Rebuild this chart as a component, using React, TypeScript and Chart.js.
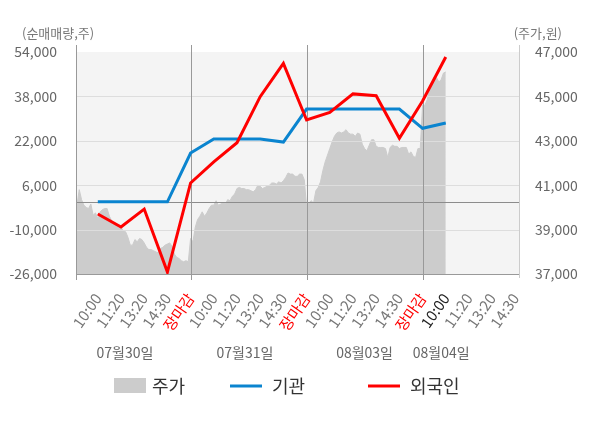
import { useEffect, useRef } from "react";
import { Chart, registerables } from "chart.js";

Chart.register(...registerables);

const FONT = '"Noto Sans CJK KR", "Noto Sans", sans-serif';

// x축 눈금 (일자별 시간대)
const X_LABELS = [
  "10:00", "11:20", "13:20", "14:30", "장마감",
  "10:00", "11:20", "13:20", "14:30", "장마감",
  "10:00", "11:20", "13:20", "14:30", "장마감",
  "10:00", "11:20", "13:20", "14:30",
];
const CURRENT_TICK = 15;

const DAYS = ["07월30일", "07월31일", "08월03일", "08월04일"];
const DAY_LABEL_AT = [2.17, 7.34, 12.5, 15.8];

const LEFT_TICKS = [-26000, -10000, 6000, 22000, 38000, 54000];
const RIGHT_TICKS = [37000, 39000, 41000, 43000, 45000, 47000];

// 순매매량 (주)
const INSTITUTION = [0, 0, 0, 0, 17600, 22650, 22650, 22650, 21550, 33450, 33450, 33450, 33450, 33450, 26500, 28400];
const FOREIGN = [-4400, -9050, -2600, -25300, 6800, 14400, 21300, 37900, 49900, 29500, 32200, 38900, 38250, 22900, 36350, 52200];

// 주가 (원)
const PRICE_0730 = [
  39500, 40100, 40800, 40350, 40100, 40000, 39950, 40150, 39650, 39750,
  39500, 39800, 39900, 39950, 39950, 39600, 39400, 39300, 39200, 39100,
  39100, 38950, 38900, 38650, 38300, 38300, 38550, 38450, 38600, 38550,
  38400, 38200, 38100, 38100, 38050, 38000, 37950, 38150, 38200, 38300,
  38350, 38400, 38250, 37900, 37750, 37700, 37600, 37550, 37600, 37550,
];
const PRICE_0731 = [
  38600, 38450, 39100, 39450, 39600, 39800, 39600, 39750, 39950, 40100,
  40100, 40300, 40100, 40150, 40200, 40150, 40350, 40300, 40500, 40600,
  40850, 40900, 40850, 40850, 40800, 40800, 40750, 40700, 40800, 41000,
  40950, 40850, 40900, 40950, 41000, 41100, 41100, 41050, 41150, 41100,
  41200, 41350, 41550, 41500, 41500, 41400, 41400, 41500, 41500, 41250,
];
const PRICE_0803 = [
  40050, 40200, 40300, 40200, 40750, 40900, 41150, 41650, 42050, 42350,
  42650, 42950, 43200, 43350, 43400, 43350, 43400, 43500, 43350, 43300,
  43300, 43200, 43350, 43300, 42850, 42650, 42550, 42800, 43050, 43050,
  42750, 42700, 42700, 42700, 42650, 42250, 42700, 42800, 42750, 42750,
  42650, 42700, 42700, 42700, 42400, 42500, 42300, 42250, 42650, 42650,
];
const PRICE_0804 = [44600, 44600, 44850, 45300, 45500, 45750, 45850, 45650, 45750, 46050, 46100];

const X_MIN = 0.06;
const X_MAX = 19.2;

const decor = {
  id: "decor",
  beforeDraw(chart: any) {
    const { ctx, chartArea: a } = chart;
    ctx.save();
    ctx.fillStyle = "#f4f4f4";
    ctx.fillRect(a.left, a.top, a.right - a.left, a.bottom - a.top);
    ctx.restore();
  },
  afterDatasetDraw(chart: any, args: any) {
    if (args.index !== 0) return;
    const { ctx, chartArea: a, scales } = chart;
    const px = (v: number) => Math.round(v) + 0.5;
    ctx.save();
    ctx.lineWidth = 1;
    ctx.strokeStyle = "#dddddd";
    LEFT_TICKS.slice(0, -1).forEach((v) => {
      const y = px(scales.y.getPixelForValue(v));
      ctx.beginPath();
      ctx.moveTo(a.left, y);
      ctx.lineTo(a.right, y);
      ctx.stroke();
    });
    ctx.strokeStyle = "#8c8c8c";
    const y0 = px(scales.y.getPixelForValue(0));
    ctx.beginPath();
    ctx.moveTo(a.left, y0);
    ctx.lineTo(a.right, y0);
    ctx.stroke();

    ctx.strokeStyle = "#999999";
    const bounds = [0, ...X_LABELS.map((l, i) => (l === "장마감" ? i + 1 : -1)).filter((v) => v > 0)];
    bounds.forEach((u) => {
      const x = u === 0 ? a.left + 0.5 : px(scales.x.getPixelForValue(u));
      ctx.beginPath();
      ctx.moveTo(x, a.top - 7);
      ctx.lineTo(x, a.bottom + 6);
      ctx.stroke();
    });
    ctx.beginPath();
    ctx.moveTo(a.left, a.bottom + 0.5);
    ctx.lineTo(a.right, a.bottom + 0.5);
    ctx.stroke();
    ctx.strokeStyle = "#cccccc";
    ctx.beginPath();
    ctx.moveTo(a.right - 0.5, a.top - 7);
    ctx.lineTo(a.right - 0.5, a.bottom + 4);
    ctx.stroke();
    ctx.restore();
  },
  afterDraw(chart: any) {
    const { ctx, scales } = chart;
    ctx.save();
    ctx.textBaseline = "middle";
    ctx.font = `13px ${FONT}`;
    ctx.fillStyle = "#777777";
    ctx.textAlign = "left";
    ctx.fillText("(순매매량,주)", 22, 33);
    ctx.textAlign = "right";
    ctx.fillText("(주가,원)", 562, 33);

    ctx.font = `14px ${FONT}`;
    ctx.fillStyle = "#666666";
    ctx.textAlign = "center";
    DAYS.forEach((d, i) => ctx.fillText(d, scales.x.getPixelForValue(DAY_LABEL_AT[i]), 353));

    // 범례
    const ds = chart.data.datasets;
    const legendX = [114, 230, 368];
    const ly = 386;
    ctx.font = `18px ${FONT}`;
    ctx.textAlign = "left";
    ds.forEach((d: any, i: number) => {
      const x = legendX[i];
      if (i === 0) {
        ctx.fillStyle = d.backgroundColor;
        ctx.fillRect(x, ly - 8, 32, 15);
      } else {
        ctx.strokeStyle = d.borderColor;
        ctx.lineWidth = 3;
        ctx.beginPath();
        ctx.moveTo(x, ly);
        ctx.lineTo(x + 32, ly);
        ctx.stroke();
      }
      ctx.fillStyle = "#333333";
      ctx.fillText(d.label, x + (i === 0 ? 38 : 42), ly);
    });
    ctx.restore();
  },
};

export default function App() {
  const canvasRef = useRef<HTMLCanvasElement>(null);

  useEffect(() => {
    if (!canvasRef.current) return;

    const priceData = [PRICE_0730, PRICE_0731, PRICE_0803, PRICE_0804].flatMap((day, d) =>
      day.map((p, i) => ({ x: d * 5 + i * 0.1, y: p }))
    );

    const chart = new Chart(canvasRef.current, {
      type: "line",
      data: {
        datasets: [
          {
            label: "주가",
            data: priceData,
            yAxisID: "yPrice",
            backgroundColor: "#cccccc",
            borderColor: "#cccccc",
            borderWidth: 1,
            fill: "start",
            pointRadius: 0,
            order: 3,
          },
          {
            label: "기관",
            data: INSTITUTION.map((v, i) => ({ x: i + 1, y: v })),
            yAxisID: "y",
            borderColor: "#0a84cf",
            backgroundColor: "#0a84cf",
            borderWidth: 3,
            pointRadius: 0,
            tension: 0,
            order: 2,
          },
          {
            label: "외국인",
            data: FOREIGN.map((v, i) => ({ x: i + 1, y: v })),
            yAxisID: "y",
            borderColor: "#ff0000",
            backgroundColor: "#ff0000",
            borderWidth: 3,
            pointRadius: 0,
            tension: 0,
            order: 1,
          },
        ],
      },
      options: {
        responsive: false,
        animation: false,
        layout: { padding: { top: 52 } },
        plugins: { legend: { display: false }, tooltip: { enabled: false } },
        scales: {
          x: {
            type: "linear",
            min: X_MIN,
            max: X_MAX,
            bounds: "data",
            grid: { display: false },
            border: { display: false },
            afterBuildTicks: (s: any) => {
              s.ticks = X_LABELS.map((_, i) => ({ value: i + 1 }));
            },
            afterFit: (s: any) => {
              s.height = 154;
            },
            ticks: {
              autoSkip: false,
              minRotation: 55,
              maxRotation: 55,
              padding: 8,
              font: { family: FONT, size: 15 },
              color: (c: any) => {
                const i = Math.round(c.tick.value) - 1;
                if (X_LABELS[i] === "장마감") return "#ff0000";
                return i === CURRENT_TICK ? "#222222" : "#777777";
              },
              callback: (v: any) => X_LABELS[Math.round(Number(v)) - 1] ?? "",
            },
          },
          y: {
            type: "linear",
            position: "left",
            min: -26000,
            max: 54000,
            grid: { display: false },
            border: { display: false },
            afterBuildTicks: (s: any) => {
              s.ticks = LEFT_TICKS.map((v) => ({ value: v }));
            },
            afterFit: (s: any) => {
              s.width = 76;
            },
            ticks: {
              padding: 11,
              color: "#666666",
              font: { family: FONT, size: 14 },
              callback: (v: any) => Number(v).toLocaleString("en-US"),
            },
          },
          yPrice: {
            type: "linear",
            position: "right",
            min: 37000,
            max: 47000,
            grid: { display: false },
            border: { display: false },
            afterBuildTicks: (s: any) => {
              s.ticks = RIGHT_TICKS.map((v) => ({ value: v }));
            },
            afterFit: (s: any) => {
              s.width = 80;
            },
            ticks: {
              padding: 7,
              color: "#666666",
              font: { family: FONT, size: 14 },
              callback: (v: any) => Number(v).toLocaleString("en-US"),
            },
          },
        },
      },
      plugins: [decor],
    });

    return () => chart.destroy();
  }, []);

  return (
    <div style={{ position: "fixed", left: 0, top: 0, width: 600, height: 428, background: "#fff" }}>
      <canvas ref={canvasRef} width={600} height={428} style={{ display: "block" }} />
    </div>
  );
}
